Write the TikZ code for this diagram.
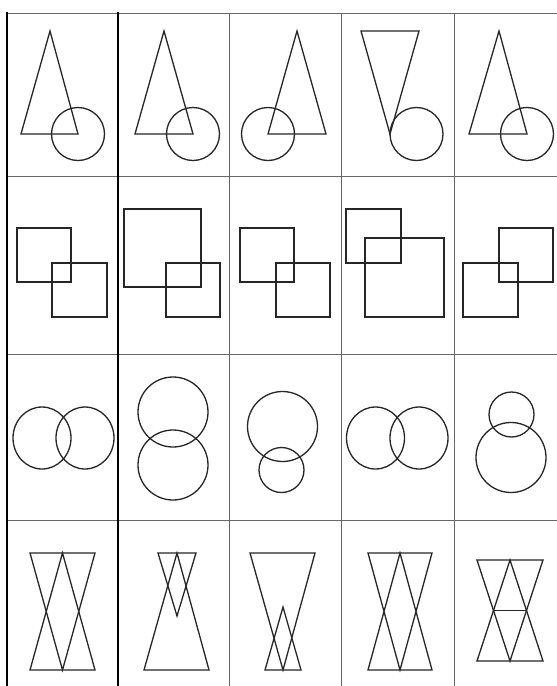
\documentclass[tikz,border=0pt]{standalone}
\usepackage{tikz}
\tikzset{
  thingrid/.style={draw=black!60,line width=1pt},
  boldgrid/.style={draw=black,line width=1.8pt},
  shapeline/.style={draw=black!85,line width=1.3pt,line join=miter}
}
\begin{document}
\begin{tikzpicture}[x=1pt,y=-1pt]
  \fill[white] (0,0) rectangle (557,686);
  \useasboundingbox (0,0) rectangle (557,686);
  % grid
  \foreach \gy in {13,176,354,520} \draw[thingrid] (7,\gy) -- (557,\gy);
  \foreach \gx in {229,341,454} \draw[thingrid] (\gx,13) -- (\gx,686);
  \draw[boldgrid] (7,12) -- (7,686);
  \draw[boldgrid] (118,12) -- (118,686);
  % row 1: triangle and circle
  \draw[shapeline] (50,31) -- (21,134) -- (78,134) -- cycle;
  \draw[shapeline] (78,134) circle[radius=26.5];
  \draw[shapeline] (164,31) -- (135,134) -- (193,134) -- cycle;
  \draw[shapeline] (193,134) circle[radius=26.5];
  \draw[shapeline] (297,31) -- (268,134) -- (326,134) -- cycle;
  \draw[shapeline] (268,134) circle[radius=26.5];
  \draw[shapeline] (361,31) -- (419,31) -- (390,134) -- cycle;
  \draw[shapeline] (416.5,134) circle[radius=26.5];
  \draw[shapeline] (499,31) -- (469,134) -- (527,134) -- cycle;
  \draw[shapeline] (527,134) circle[radius=26.5];
  % row 2: two squares
  \draw[shapeline] (17,228) rectangle (71,282);
  \draw[shapeline] (52,263) rectangle (107,317);
  \draw[shapeline] (124,209) rectangle (201,287);
  \draw[shapeline] (166,263) rectangle (220,317);
  \draw[shapeline] (240,228) rectangle (294,282);
  \draw[shapeline] (276,263) rectangle (330,317);
  \draw[shapeline] (346,209) rectangle (401,263);
  \draw[shapeline] (365,238) rectangle (444,317);
  \draw[shapeline] (499,228) rectangle (553,282);
  \draw[shapeline] (463,263) rectangle (518,317);
  % row 3: two circles
  \draw[shapeline] (42,438) ellipse[x radius=29,y radius=31];
  \draw[shapeline] (85,438) ellipse[x radius=29,y radius=31];
  \draw[shapeline] (173,412) circle[radius=35];
  \draw[shapeline] (173,465) circle[radius=35];
  \draw[shapeline] (282.5,426.5) circle[radius=35];
  \draw[shapeline] (281.5,470) circle[radius=22.5];
  \draw[shapeline] (375.5,438) ellipse[x radius=29,y radius=31];
  \draw[shapeline] (419,438) ellipse[x radius=29,y radius=31];
  \draw[shapeline] (511.5,414.5) circle[radius=22.5];
  \draw[shapeline] (511,457.5) circle[radius=35];
  % row 4: two triangles
  \draw[shapeline] (30,553) -- (95,553) -- (62.5,670) -- cycle;
  \draw[shapeline] (30,670) -- (95,670) -- (62.5,553) -- cycle;
  \draw[shapeline] (158,553) -- (196,553) -- (177,616) -- cycle;
  \draw[shapeline] (144,670) -- (209,670) -- (177,553) -- cycle;
  \draw[shapeline] (250,553) -- (315,553) -- (283,670) -- cycle;
  \draw[shapeline] (265,670) -- (301,670) -- (283,607) -- cycle;
  \draw[shapeline] (368,553) -- (432,553) -- (400,670) -- cycle;
  \draw[shapeline] (368,670) -- (432,670) -- (400,553) -- cycle;
  \draw[shapeline] (477,560) -- (543,560) -- (510,661) -- cycle;
  \draw[shapeline] (477,661) -- (543,661) -- (510,560) -- cycle;
  \draw[shapeline] (493.5,610.5) -- (526.5,610.5);
\end{tikzpicture}
\end{document}
